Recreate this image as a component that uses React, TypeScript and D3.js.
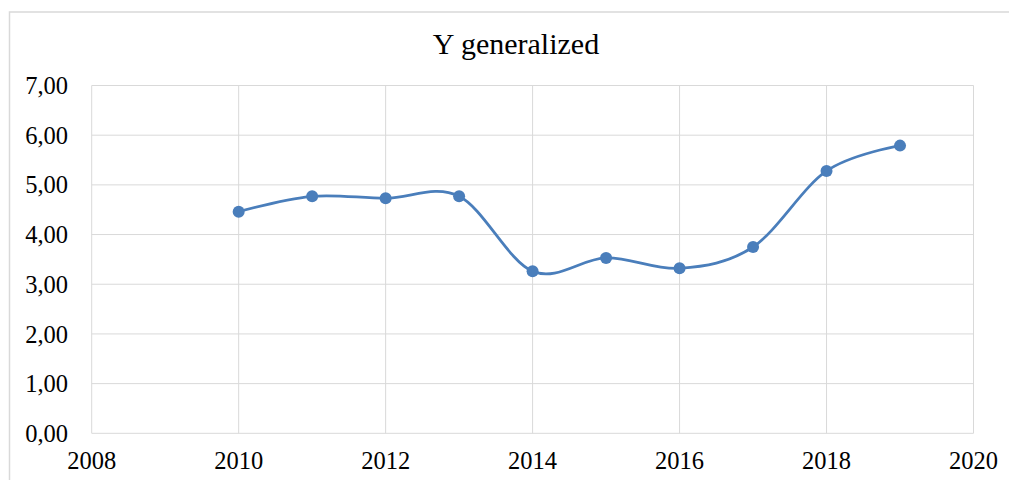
import React, { useRef, useEffect } from "react";
import * as d3 from "d3";

const years = [2010, 2011, 2012, 2013, 2014, 2015, 2016, 2017, 2018, 2019];
const yValues = [4.46, 4.77, 4.73, 4.77, 3.26, 3.53, 3.32, 3.75, 5.28, 5.79];
const xTicks = [2008, 2010, 2012, 2014, 2016, 2018, 2020];
const yTicks = [0, 1, 2, 3, 4, 5, 6, 7];
const title = "Y generalized";

const App = () => {
  const ref = useRef<SVGSVGElement>(null);

  useEffect(() => {
    const width = 1009;
    const height = 480;
    const plot = { left: 91.7, right: 973.5, top: 85.5, bottom: 433.3 };
    const font = "'Liberation Serif', 'Times New Roman', serif";

    const svg = d3.select(ref.current);
    svg.selectAll("*").remove();
    svg.attr("width", width).attr("height", height);

    const x = d3.scaleLinear().domain([2008, 2020]).range([plot.left, plot.right]);
    const y = d3.scaleLinear().domain([0, 7]).range([plot.bottom, plot.top]);

    // chart frame
    svg
      .append("rect")
      .attr("x", 9.5)
      .attr("y", 12)
      .attr("width", 1100)
      .attr("height", 600)
      .attr("fill", "white")
      .attr("stroke", "#d9d9d9")
      .attr("stroke-width", 1.5);

    // horizontal grid
    svg
      .append("g")
      .selectAll("line")
      .data(yTicks)
      .enter()
      .append("line")
      .attr("x1", plot.left)
      .attr("x2", plot.right)
      .attr("y1", (d) => y(d))
      .attr("y2", (d) => y(d))
      .attr("stroke", "#d9d9d9")
      .attr("stroke-width", 1);

    // vertical grid
    svg
      .append("g")
      .selectAll("line")
      .data(xTicks)
      .enter()
      .append("line")
      .attr("x1", (d) => x(d))
      .attr("x2", (d) => x(d))
      .attr("y1", plot.top)
      .attr("y2", plot.bottom)
      .attr("stroke", "#d9d9d9")
      .attr("stroke-width", 1);

    // y labels
    svg
      .append("g")
      .selectAll("text")
      .data(yTicks)
      .enter()
      .append("text")
      .text((d) => d.toFixed(2).replace(".", ","))
      .attr("x", 68)
      .attr("y", (d) => y(d))
      .attr("dy", "0.35em")
      .style("text-anchor", "end")
      .style("font-family", font)
      .style("font-size", "24.5px")
      .attr("fill", "#000");

    // x labels
    svg
      .append("g")
      .selectAll("text")
      .data(xTicks)
      .enter()
      .append("text")
      .text((d) => `${d}`)
      .attr("x", (d) => x(d))
      .attr("y", 468.5)
      .style("text-anchor", "middle")
      .style("font-family", font)
      .style("font-size", "24.5px")
      .attr("fill", "#000");

    // title
    svg
      .append("text")
      .text(title)
      .attr("x", 516)
      .attr("y", 53.5)
      .style("text-anchor", "middle")
      .style("font-family", font)
      .style("font-size", "30px")
      .attr("fill", "#000");

    const points = years.map((yr, i) => [yr, yValues[i]] as [number, number]);

    const line = d3
      .line<[number, number]>()
      .x((d) => x(d[0]))
      .y((d) => y(d[1]))
      .curve(d3.curveCardinal.tension(0));

    svg
      .append("path")
      .datum(points)
      .attr("d", line)
      .attr("fill", "none")
      .attr("stroke", "#4a7ebb")
      .attr("stroke-width", 2.75)
      .attr("stroke-linecap", "round");

    svg
      .append("g")
      .selectAll("circle")
      .data(points)
      .enter()
      .append("circle")
      .attr("cx", (d) => x(d[0]))
      .attr("cy", (d) => y(d[1]))
      .attr("r", 6)
      .attr("fill", "#4a7ebb");
  }, []);

  return (
    <svg
      ref={ref}
      style={{ position: "absolute", left: 0, top: 0, display: "block" }}
    ></svg>
  );
};

export default App;
